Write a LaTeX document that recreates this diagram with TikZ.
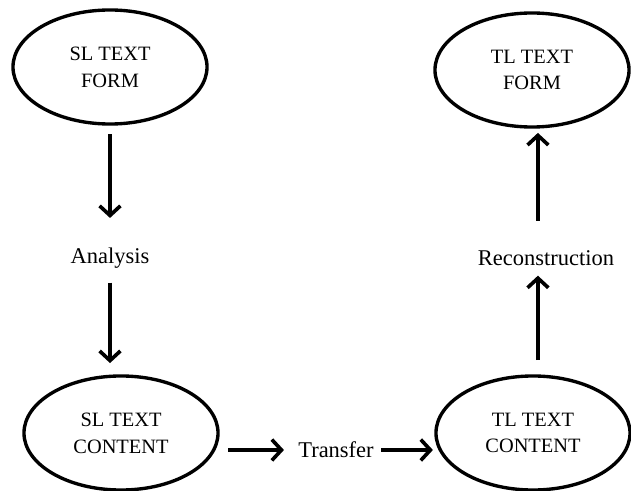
\documentclass[tikz,border=0pt]{standalone}
\usepackage{fontspec}
\setmainfont{Liberation Serif}
\usepackage{tikz}
\usetikzlibrary{arrows.meta,shapes.geometric}

\tikzset{
  textform/.style={draw, ellipse, line width=2.4pt, minimum width=4.85cm, minimum height=2.85cm,
    align=center, font=\fontsize{14.5}{19}\selectfont},
  steplabel/.style={inner sep=2pt, font=\fontsize{16}{19}\selectfont},
  flow/.style={line width=3pt, -{Straight Barb[length=2.4mm,width=5.2mm,line width=2.6pt]}}
}

\begin{document}
\begin{tikzpicture}[x=0.025cm,y=-0.025cm]
\useasboundingbox (0,0) rectangle (631,491);
% the four texts
\node[textform] (slform) at (110,67) {SL TEXT\\FORM};
\node[textform] (tlform) at (532,70) {TL TEXT\\FORM};
\node[textform] (slcontent) at (121,433) {SL TEXT\\CONTENT};
\node[textform] (tlcontent) at (533,433) {TL TEXT\\CONTENT};
% the three steps
\node[steplabel] (analysis) at (110,258) {Analysis};
\node[steplabel] (recon) at (546,258) {Reconstruction};
\node[steplabel] (transfer) at (336,450) {Transfer};

\draw[flow, shorten <=6pt, shorten >=19pt] (slform.south) -- (slform.south |- analysis.north);
\draw[flow, shorten <=8pt, shorten >=8pt] (analysis.south) -- (analysis.south |- slcontent.north);
\draw[flow, shorten <=6pt, shorten >=8pt] (transfer.west -| slcontent.east) -- (transfer.west);
\draw[flow, shorten <=3pt, shorten >=1pt] (transfer.east) -- (transfer.east -| tlcontent.west);
\draw[flow, shorten <=10pt, shorten >=5pt] ([xshift=3.5pt]tlcontent.north) -- ([xshift=3.5pt]tlcontent.north |- recon.south);
\draw[flow, shorten <=19pt, shorten >=3pt] ([xshift=3.5pt]tlcontent.north |- recon.north) -- ([xshift=3.5pt]tlcontent.north |- tlform.south);
\end{tikzpicture}
\end{document}
